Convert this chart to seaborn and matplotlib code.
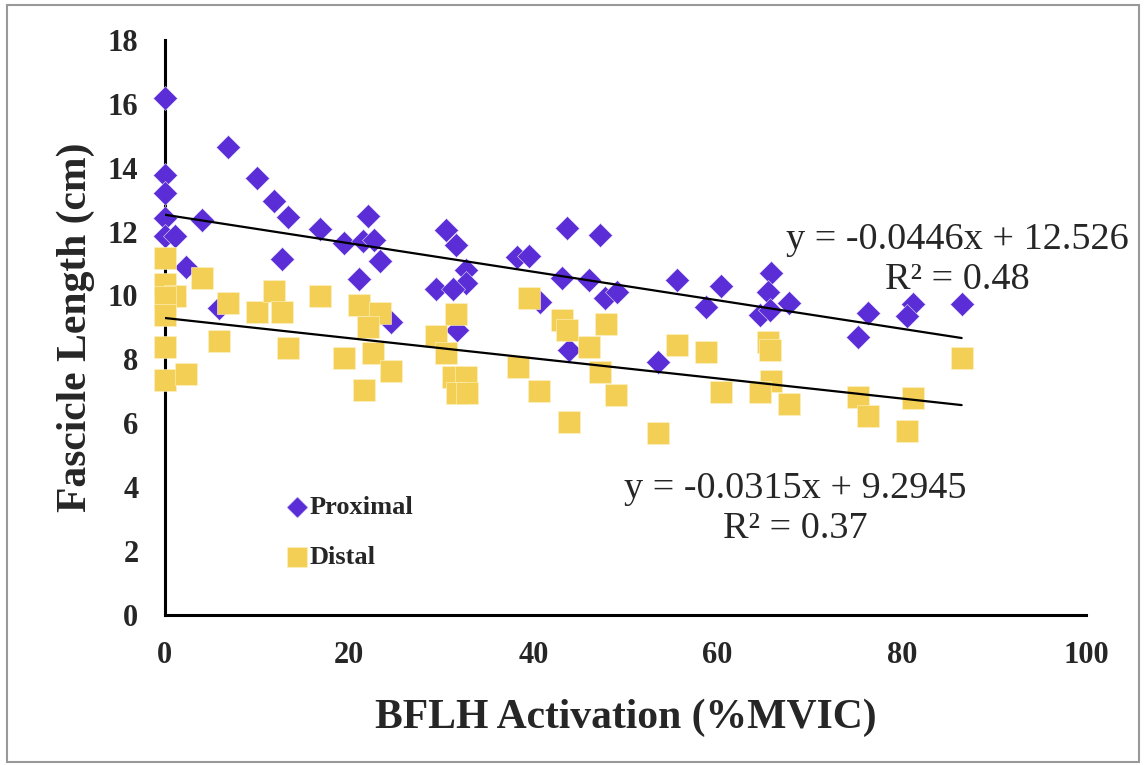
import numpy as np
import pandas as pd
import seaborn as sns
import matplotlib.pyplot as plt
from matplotlib.patches import Rectangle

# proximal fascicle length vs activation
prox_x = [0, 0, 0, 0, 0, 1.1, 4.0, 2.3, 6.8, 10.0, 11.9, 13.4, 12.7, 16.8, 19.4,
          21.5, 22.0, 22.7, 23.3, 21.1, 5.9, 24.5, 29.4, 30.5, 31.6, 32.7, 32.7,
          31.3, 31.7, 40.7, 38.2, 39.5, 43.6, 47.2, 43.1, 46.0, 47.8, 49.1, 43.9,
          53.5, 55.6, 58.7, 60.4, 65.8, 65.5, 67.7, 64.6, 65.7, 76.3, 75.2, 81.2,
          80.6, 86.5]
prox_y = [16.19, 13.78, 13.21, 12.43, 11.87, 11.87, 12.37, 10.9, 14.65, 13.68,
          12.96, 12.46, 11.15, 12.08, 11.65, 11.71, 12.49, 11.74, 11.08, 10.52,
          9.61, 9.17, 10.2, 12.05, 11.58, 10.8, 10.4, 10.2, 8.92, 9.8, 11.2, 11.24,
          12.1, 11.9, 10.55, 10.49, 9.93, 10.1, 8.3, 7.91, 10.49, 9.64, 10.3, 10.7,
          10.1, 9.77, 9.39, 9.55, 9.45, 8.7, 9.73, 9.36, 9.73]

# distal fascicle length vs activation
dist_x = [0, 0, 1.1, 0, 0, 0, 0, 2.3, 4.0, 6.8, 5.9, 10.0, 11.9, 12.7, 13.4, 16.8,
          19.4, 21.1, 23.3, 22.0, 22.6, 21.6, 24.5, 29.4, 30.5, 31.6, 31.3, 32.7,
          31.7, 32.8, 39.5, 38.3, 40.6, 43.1, 43.6, 46.0, 47.2, 47.9, 49.0, 43.9,
          53.5, 55.6, 58.7, 60.4, 65.5, 65.7, 65.8, 64.6, 67.7, 75.2, 76.3, 81.2,
          80.6, 86.5]
dist_y = [11.18, 10.36, 9.99, 9.96, 9.39, 8.39, 7.36, 7.55, 10.55, 9.77, 8.58,
          9.49, 10.14, 9.49, 8.36, 9.99, 8.05, 9.71, 9.46, 9.02, 8.2, 7.04, 7.64,
          8.73, 8.2, 9.42, 7.45, 7.45, 6.95, 6.95, 9.92, 7.76, 7.01, 9.24, 8.92,
          8.39, 7.61, 9.11, 6.89, 6.04, 5.7, 8.45, 8.23, 6.98, 8.55, 8.3, 7.33,
          6.98, 6.6, 6.83, 6.23, 6.8, 5.76, 8.05]

# trendline coefficients shown on the chart
prox_slope, prox_icept, prox_r2 = -0.0446, 12.526, 0.48
dist_slope, dist_icept, dist_r2 = -0.0315, 9.2945, 0.37

purple = "#5A2DD6"
yellow = "#F3CF55"

sns.set_style("white")
plt.rcParams["font.family"] = ["Liberation Serif", "DejaVu Serif"]

df_prox = pd.DataFrame({"x": prox_x, "y": prox_y})
df_dist = pd.DataFrame({"x": dist_x, "y": dist_y})

fig = plt.figure(figsize=(11.45, 7.65), dpi=100)
ax = fig.add_axes([0.144, 0.196, 0.8045, 0.752])

sns.scatterplot(data=df_prox, x="x", y="y", ax=ax, marker="D", s=150,
                color=purple, edgecolor="#e8e0ff", linewidth=0.4,
                label="Proximal", clip_on=False, zorder=3)
sns.scatterplot(data=df_dist, x="x", y="y", ax=ax, marker="s", s=245,
                color=yellow, edgecolor="#fff3c8", linewidth=0.4,
                label="Distal", clip_on=False, zorder=4)

# linear trendlines
xs = np.array([0, max(prox_x)])
ax.plot(xs, prox_slope * xs + prox_icept, color="black", lw=1.6, zorder=5)
xs = np.array([0, max(dist_x)])
ax.plot(xs, dist_slope * xs + dist_icept, color="black", lw=1.6, zorder=5)

eq_kw = dict(ha="center", va="center", fontsize=27.5, clip_on=False)
ax.text(86.0, 11.74, f"y = {prox_slope}x + {prox_icept}", **eq_kw)
ax.text(86.0, 10.49, f"R² = {prox_r2}", **eq_kw)
ax.text(68.4, 3.94, f"y = {dist_slope}x + {dist_icept}", **eq_kw)
ax.text(68.4, 2.69, f"R² = {dist_r2}", **eq_kw)

ax.set_xlim(0, 100)
ax.set_ylim(0, 18)
ax.set_xticks(range(0, 101, 20))
ax.set_yticks(range(0, 19, 2))
sns.despine(ax=ax)
for side in ["left", "bottom"]:
    ax.spines[side].set_linewidth(2.2)
    ax.spines[side].set_color("black")
ax.tick_params(axis="both", direction="out", length=6, width=2.2,
               labelsize=22, pad=13, color="black")
for lbl in ax.get_xticklabels() + ax.get_yticklabels():
    lbl.set_fontweight("bold")

ax.set_xlabel("BFLH Activation (%MVIC)", fontsize=30, fontweight="bold", labelpad=20)
ax.set_ylabel("Fascicle Length (cm)", fontsize=30, fontweight="bold", labelpad=9)

ax.legend(loc="upper left", bbox_to_anchor=(0.236, 0.369),
          bbox_transform=fig.transFigure, frameon=False, borderpad=0,
          handlelength=1.0, handletextpad=0.0, labelspacing=1.0,
          markerscale=0.88, prop={"size": 19, "weight": "bold"})

# grey frame around the whole chart
fig.patches.append(Rectangle((0.006, 0.004), 0.989, 0.99, transform=fig.transFigure,
                             fill=False, edgecolor="#999999", lw=1.5))

fig.savefig("out.png", dpi=100)
